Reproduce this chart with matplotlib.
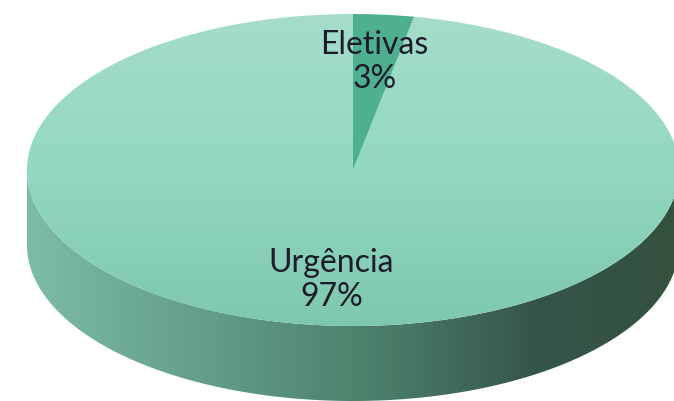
import numpy as np
import matplotlib
matplotlib.use('Agg')
import matplotlib.pyplot as plt
from matplotlib.patches import Polygon
from matplotlib.colors import LinearSegmentedColormap

# data
labels = ['Eletivas', 'Urgência']
values = [3, 97]
slice_colors = ['#4fb090', None]   # None -> gradient top face

# pie geometry (pixel space of the 674x401 picture)
cx, cy = 353, 170
a, b = 326, 156
depth = 75
start_angle = 90

fig = plt.figure(figsize=(6.74, 4.01), dpi=100)
ax = fig.add_axes([0, 0, 1, 1])
ax.set_xlim(0, 674)
ax.set_ylim(401, 0)
ax.axis('off')

def ell(t, dy=0):
    t = np.radians(t)
    return np.column_stack([cx + a*np.cos(t), cy - b*np.sin(t) + dy])

# side (front half of the cylinder)
t_front = np.linspace(180, 360, 200)
upper = ell(t_front)
lower = ell(t_front[::-1], depth)
side = Polygon(np.vstack([upper, lower]), closed=True, facecolor='none', edgecolor='none')
ax.add_patch(side)
side_cmap = LinearSegmentedColormap.from_list('side', [(0, '#7dbca6'), (0.3, '#609b85'),
                                                       (0.55, '#4a7d69'), (0.78, '#36554a'),
                                                       (1, '#34513f')])
grad = np.linspace(0, 1, 256).reshape(1, -1)
im = ax.imshow(grad, cmap=side_cmap, extent=[cx - a, cx + a, cy + b + depth, cy],
               aspect='auto', zorder=1)
im.set_clip_path(side)

# top face slices
total = sum(values)
top_cmap = LinearSegmentedColormap.from_list('top', ['#a5ddca', '#93d8c0', '#7dc8ae'])
ang = start_angle
mids = []
for lab, v, col in zip(labels, values, slice_colors):
    sweep = 360.0 * v / total
    t = np.linspace(ang, ang - sweep, max(int(sweep), 2) + 1)
    pts = np.vstack([[cx, cy], ell(t)])
    mids.append(ang - sweep / 2)
    if col is None:
        poly = Polygon(pts, closed=True, facecolor='none', edgecolor='none')
        ax.add_patch(poly)
        vg = np.linspace(0, 1, 256).reshape(-1, 1)
        im2 = ax.imshow(vg, cmap=top_cmap, extent=[cx - a, cx + a, cy + b, cy - b],
                        aspect='auto', zorder=2)
        im2.set_clip_path(poly)
    else:
        ax.add_patch(Polygon(pts, closed=True, facecolor=col, edgecolor='none', zorder=3))
    ang -= sweep

# labels
for lab, v, m in zip(labels, values, mids):
    p = ell(np.array([m]))[0]
    lx = cx + 0.7*(p[0] - cx)
    ly = cy + 0.7*(p[1] - cy) + 1
    ax.text(lx, ly, f'{lab}\n{round(100*v/total)}%', ha='center', va='center',
            fontsize=23, family='Lato', color='#1c1c2a', linespacing=1.15, zorder=5)

fig.savefig('out.png', dpi=100)
